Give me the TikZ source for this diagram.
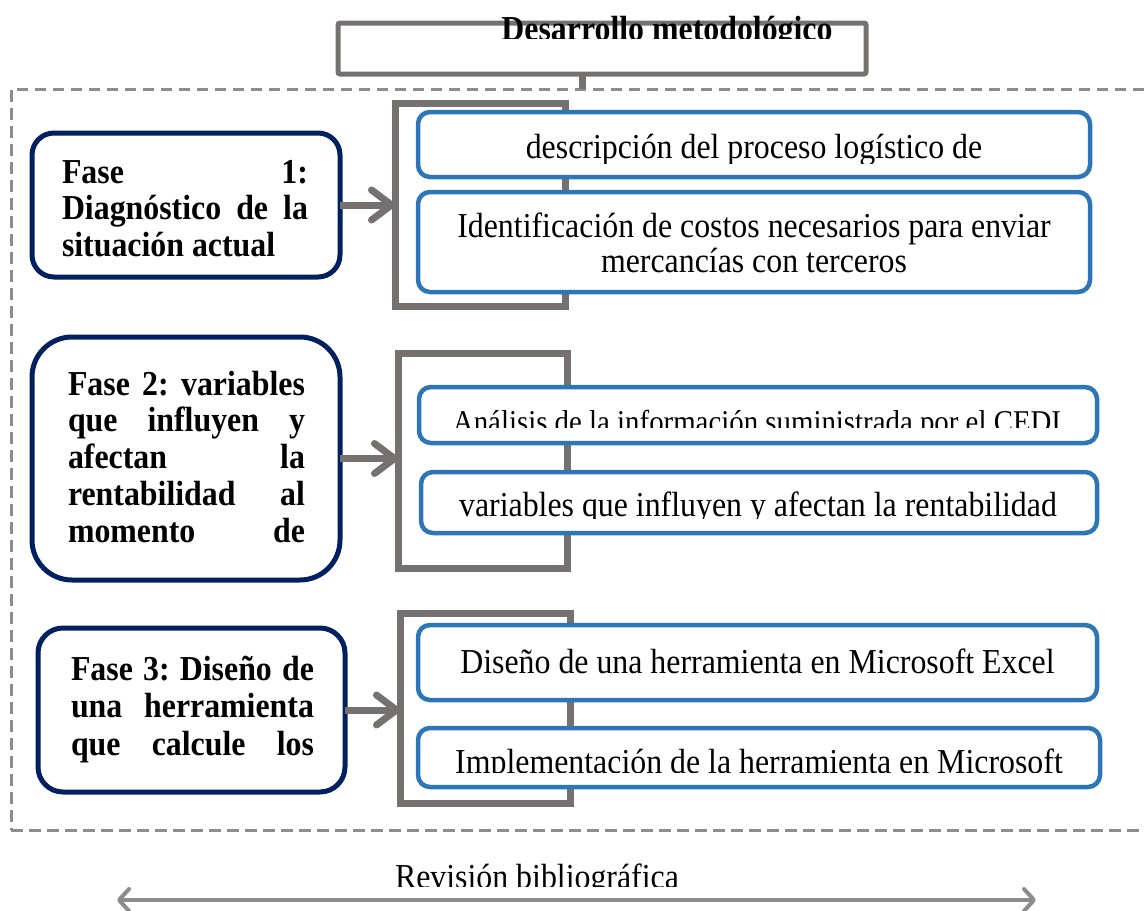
\documentclass[tikz,border=0pt]{standalone}
\usepackage{fontspec}
\setmainfont{Liberation Serif}[FakeStretch=0.91]
\usetikzlibrary{arrows.meta}
\definecolor{navy}{HTML}{002060}
\definecolor{obl}{HTML}{2E75B6}
\definecolor{gr}{HTML}{767171}
\definecolor{dgr}{HTML}{8C8C8C}
\begin{document}
\begin{tikzpicture}[x=1pt,y=-1pt,
  every node/.style={inner sep=0pt, outer sep=0pt},
  navybox/.style={draw=navy, line width=5pt, fill=white, rounded corners=22pt},
  bluebox/.style={draw=obl, line width=4.5pt, fill=white, rounded corners=12pt},
  bracketbox/.style={draw=gr, line width=7pt},
  topbox/.style={draw=gr, line width=5pt, fill=white, rounded corners=2pt},
  framebox/.style={draw=dgr, line width=3pt, dash pattern=on 11.5pt off 6.5pt},
  arr/.style={draw=gr, line width=7pt, -{Straight Barb[length=20pt,width=30pt,round]}},
  darr/.style={draw=dgr, line width=4pt, {Straight Barb[length=10pt,width=22pt,round]}-{Straight Barb[length=10pt,width=22pt,round]}},
  boldtxt/.style={font=\bfseries\fontsize{35}{36.8}\selectfont, anchor=base west},
  regtxt/.style={font=\fontsize{35}{35}\selectfont, anchor=base, align=center},
  ]
\useasboundingbox (0,0) rectangle (1145,910);
% dashed frame
\node[framebox, minimum width=1150pt, minimum height=741pt] (frame) at (586,459.5) {};
% top box
\node[topbox, minimum width=528pt, minimum height=51pt] (top) at (602,48.5) {};
\begin{scope}
  \clip (340,10) rectangle (864,38);
  \node[font=\bfseries\fontsize{35}{36}\selectfont, anchor=base] (title) at (667,40) {Desarrollo metodológico};
\end{scope}
\coordinate (stubx) at (582,0);
\draw[gr, line width=7pt] (top.south -| stubx) -- (frame.north -| stubx);

% brackets
\node[bracketbox, minimum width=170pt, minimum height=203pt] (br1) at (480,204.5) {};
\node[bracketbox, minimum width=169pt, minimum height=215pt] (br2) at (482.5,460.5) {};
\node[bracketbox, minimum width=170pt, minimum height=190pt] (br3) at (485,708) {};

% phase boxes
\node[navybox, minimum width=308pt, minimum height=144pt] (f1) at (186,205) {};
\node[navybox, rounded corners=40pt, minimum width=308pt, minimum height=243pt] (f2) at (186,458.5) {};
\node[navybox, rounded corners=25pt, minimum width=307pt, minimum height=164pt] (f3) at (191.5,710) {};

\begin{scope}
  \clip (40,140) rectangle (335,257);
  \node[boldtxt] (t1) at (62,183) {\vtop{\hbox to 246pt{Fase\hfill 1:}\hbox to 246pt{Diagnóstico\hfill de\hfill la}\hbox{situación actual}}};
\end{scope}
\begin{scope}
  \clip (40,345) rectangle (335,556);
  \node[boldtxt] (t2) at (68,395) {\vtop{\hbox to 237pt{Fase\hfill 2:\hfill variables}\hbox to 237pt{que\hfill influyen\hfill y}\hbox to 237pt{afectan\hfill la}\hbox to 237pt{rentabilidad\hfill al}\hbox to 237pt{momento\hfill de}}};
\end{scope}
\begin{scope}
  \clip (45,635) rectangle (340,772);
  \node[boldtxt, font=\bfseries\fontsize{35}{37.5}\selectfont] (t3) at (71,680) {\vtop{\hbox to 243pt{Fase\hfill 3:\hfill Diseño\hfill de}\hbox to 243pt{una\hfill herramienta}\hbox to 243pt{que\hfill calcule\hfill los}}};
\end{scope}

% detail boxes
\node[bluebox, minimum width=672pt, minimum height=65pt] (b1a) at (754,144.5) {};
\node[bluebox, minimum width=672pt, minimum height=100pt] (b1b) at (754,242) {};
\node[bluebox, minimum width=678pt, minimum height=56pt] (b2a) at (758,415) {};
\node[bluebox, minimum width=676pt, minimum height=61pt] (b2b) at (759,502.5) {};
\node[bluebox, minimum width=679pt, minimum height=75pt] (b3a) at (757.5,662.5) {};
\node[bluebox, minimum width=682pt, minimum height=59pt] (b3b) at (759,757.5) {};

\begin{scope}
  \clip (425,115) rectangle (1085,163);
  \node[regtxt] (d1a) at (754,158) {descripción del proceso logístico de};
\end{scope}
\node[regtxt] (d1b) at (754,237) {Identificación de costos necesarios para enviar};
\node[regtxt] (d1c) at (754,272) {mercancías con terceros};
\begin{scope}
  \clip (425,390) rectangle (1090,427);
  \node[regtxt, font=\fontsize{31.7}{33}\selectfont] (d2a) at (757,432) {Análisis de la información suministrada por el CEDI};
\end{scope}
\begin{scope}
  \clip (425,475) rectangle (1090,518);
  \node[regtxt] (d2b) at (758,516) {variables que influyen y afectan la rentabilidad};
\end{scope}
\node[regtxt] (d3a) at (757.5,673) {Diseño de una herramienta en Microsoft Excel};
\begin{scope}
  \clip (425,731) rectangle (1093,772);
  \node[regtxt] (d3b) at (759,773) {Implementación de la herramienta en Microsoft};
\end{scope}

% arrows
\draw[arr] (f1.east) -- (f1.east -| br1.west);
\draw[arr] (f2.east) -- (f2.east -| br2.west);
\draw[arr] (f3.east) -- (f3.east -| br3.west);

% bottom
\begin{scope}
  \clip (380,850) rectangle (700,886);
  \node[regtxt] (rev) at (537,888) {Revisión bibliográfica};
\end{scope}
\coordinate (rl) at (117,900);
\coordinate (rr) at (1036,900);
\draw[darr] (rl) -- (rr);
\end{tikzpicture}
\end{document}
